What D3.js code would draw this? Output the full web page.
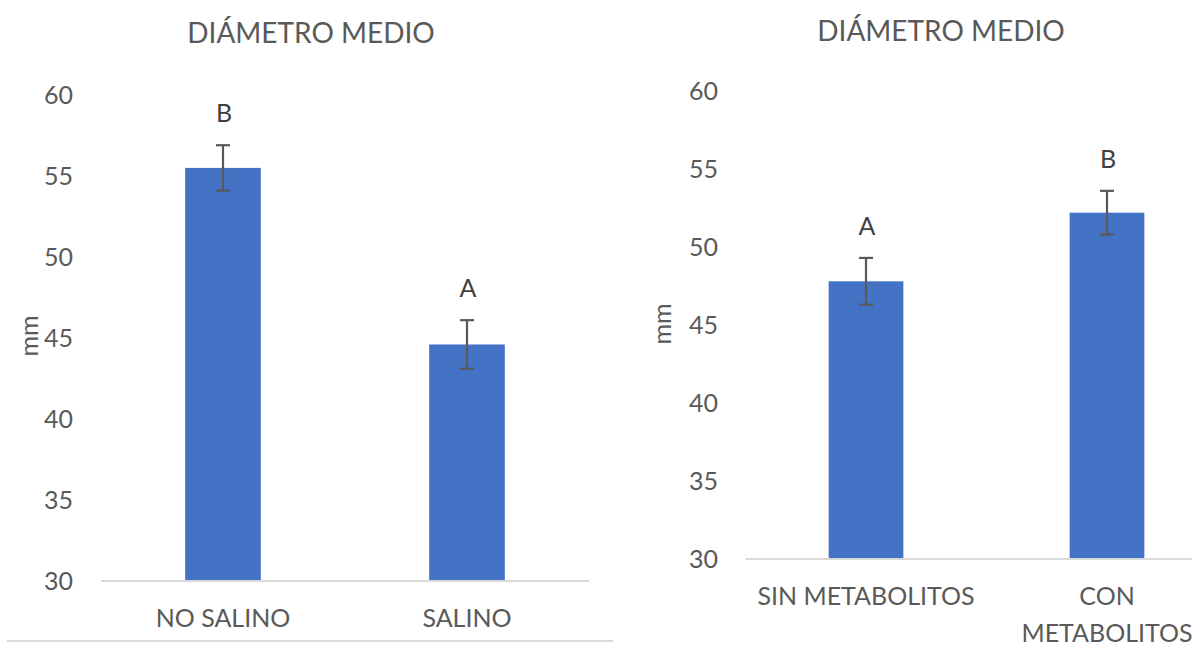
<!DOCTYPE html>
<html>
<head>
<meta charset="utf-8">
<script src="https://cdn.jsdelivr.net/npm/d3@7"></script>
<style>
  html, body { margin: 0; padding: 0; background: #fff; }
  svg { display: block; font-family: Lato, "Open Sans", sans-serif; }
</style>
</head>
<body>
<svg id="chart" width="1192" height="646"></svg>
<script>
// Mean stem diameter (mm) with standard error and significance letters
const chartTitle = "DIÁMETRO MEDIO";
const yAxisLabel = "mm";
const yTicks = [30, 35, 40, 45, 50, 55, 60];

const salinityCategories = ["NO SALINO", "SALINO"];
const salinityMeans = [55.5, 44.6];
const salinityErrors = [1.4, 1.5];
const salinityLetters = ["B", "A"];

const metaboliteCategories = ["SIN METABOLITOS", "CON METABOLITOS"];
const metaboliteMeans = [47.8, 52.2];
const metaboliteErrors = [1.5, 1.4];
const metaboliteLetters = ["A", "B"];

const BAR = "#4472C4";
const TEXT = "#595959";
const GRID = "#d9d9d9";
const FONT = "Lato, 'Open Sans', sans-serif";

const svg = d3.select("#chart");

// break a category label into one word per line when it is wider than maxWidth
function wrap(text, maxWidth) {
  text.each(function () {
    const t = d3.select(this);
    if (this.getComputedTextLength() <= maxWidth) return;
    const words = t.text().split(/\s+/);
    const x = t.attr("x") || 0, y = t.attr("y") || 0;
    const dy0 = parseFloat(t.attr("dy")) || 0;
    t.text(null);
    words.forEach((w, i) => {
      t.append("tspan")
        .attr("x", x).attr("y", y)
        .attr("dy", (dy0 + i * 1.48) + "em")
        .text(w);
    });
  });
}

function drawPanel(opts) {
  const { categories, means, errors, letters, x0, x1, yBottom, yTop,
          titleX, titleY, labelX, labelY, tickX } = opts;

  const g = svg.append("g");

  const x = d3.scaleBand()
    .domain(categories)
    .range([x0, x1])
    .paddingInner(0.69)
    .paddingOuter(0.345);

  const y = d3.scaleLinear()
    .domain([30, 60])
    .range([yBottom, yTop]);

  // title
  g.append("text")
    .attr("x", titleX).attr("y", titleY)
    .attr("text-anchor", "middle")
    .attr("fill", TEXT)
    .style("font-size", "28px")
    .text(chartTitle);

  // y axis: tick labels only, no line
  const yAxis = d3.axisLeft(y).tickValues(yTicks).tickSize(0).tickPadding(0);
  const ya = g.append("g").attr("transform", `translate(${tickX},0)`).call(yAxis);
  ya.select(".domain").remove();
  ya.selectAll("text")
    .attr("fill", TEXT)
    .style("font-size", "25px")
    .style("font-family", FONT);

  // axis title
  g.append("text")
    .attr("transform", `translate(${labelX},${labelY}) rotate(-90)`)
    .attr("text-anchor", "middle")
    .attr("dy", "0.35em")
    .attr("fill", TEXT)
    .style("font-size", "25px")
    .text(yAxisLabel);

  // bars
  g.selectAll("rect.bar")
    .data(categories)
    .join("rect")
    .attr("class", "bar")
    .attr("x", d => x(d))
    .attr("width", x.bandwidth())
    .attr("y", (d, i) => y(means[i]))
    .attr("height", (d, i) => y(30) - y(means[i]))
    .attr("fill", BAR);

  // x axis baseline and category labels
  const xAxis = d3.axisBottom(x).tickSize(0).tickPadding(28);
  const xa = g.append("g").attr("transform", `translate(0,${yBottom})`).call(xAxis);
  xa.select(".domain").attr("stroke", GRID).attr("stroke-width", 2)
    .attr("d", `M${x0},0H${Math.min(x1, 1192)}`);
  xa.selectAll("text")
    .attr("fill", TEXT)
    .style("font-size", "25px")
    .style("font-family", FONT)
    .call(wrap, x.step() * 0.94);

  // error bars
  const cap = 7;
  const eb = g.selectAll("g.err").data(categories).join("g").attr("class", "err")
    .attr("stroke", "#595959").attr("stroke-width", 2.2);
  eb.append("line")
    .attr("x1", d => x(d) + x.bandwidth() / 2)
    .attr("x2", d => x(d) + x.bandwidth() / 2)
    .attr("y1", (d, i) => y(means[i] + errors[i]))
    .attr("y2", (d, i) => y(means[i] - errors[i]));
  eb.append("line")
    .attr("x1", d => x(d) + x.bandwidth() / 2 - cap)
    .attr("x2", d => x(d) + x.bandwidth() / 2 + cap)
    .attr("y1", (d, i) => y(means[i] + errors[i]))
    .attr("y2", (d, i) => y(means[i] + errors[i]));
  eb.append("line")
    .attr("x1", d => x(d) + x.bandwidth() / 2 - cap)
    .attr("x2", d => x(d) + x.bandwidth() / 2 + cap)
    .attr("y1", (d, i) => y(means[i] - errors[i]))
    .attr("y2", (d, i) => y(means[i] - errors[i]));

  // significance letters
  g.selectAll("text.letter")
    .data(categories)
    .join("text")
    .attr("class", "letter")
    .attr("x", d => x(d) + x.bandwidth() / 2 + 1)
    .attr("y", (d, i) => y(means[i] + errors[i]) - 32)
    .attr("dy", "0.35em")
    .attr("text-anchor", "middle")
    .attr("fill", "#404040")
    .style("font-size", "25px")
    .text((d, i) => letters[i]);
}

drawPanel({
  categories: salinityCategories, means: salinityMeans, errors: salinityErrors,
  letters: salinityLetters,
  x0: 101, x1: 589, yBottom: 581, yTop: 95,
  titleX: 311, titleY: 43, labelX: 29, labelY: 336, tickX: 73
});

drawPanel({
  categories: metaboliteCategories, means: metaboliteMeans, errors: metaboliteErrors,
  letters: metaboliteLetters,
  x0: 745.5, x1: 1227.5, yBottom: 559, yTop: 91,
  titleX: 941, titleY: 41, labelX: 662, labelY: 324, tickX: 718
});

// lower border of the first chart frame
svg.append("line")
  .attr("x1", 7).attr("x2", 613)
  .attr("y1", 641).attr("y2", 641)
  .attr("stroke", GRID).attr("stroke-width", 2);
</script>
</body>
</html>
